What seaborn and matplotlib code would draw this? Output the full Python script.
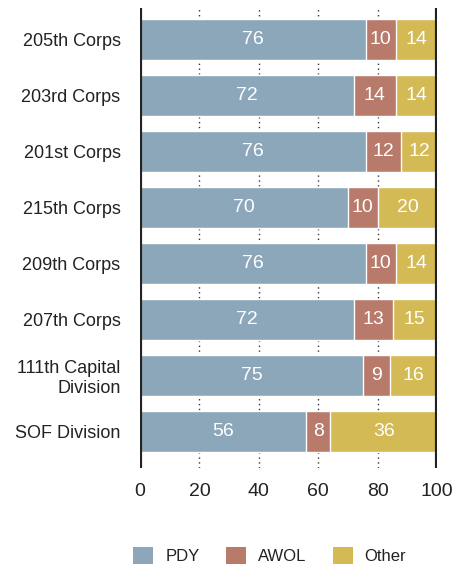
import pandas as pd
import seaborn as sns
import matplotlib.pyplot as plt
from matplotlib.patches import Patch

UNITS = ["205th Corps", "203rd Corps", "201st Corps", "215th Corps",
         "209th Corps", "207th Corps", "111th Capital\nDivision", "SOF Division"]
PDY = [76, 72, 76, 70, 76, 72, 75, 56]
AWOL = [10, 14, 12, 10, 10, 13, 9, 8]
OTHER = [14, 14, 12, 20, 14, 15, 16, 36]
X_TICKS = [0, 20, 40, 60, 80, 100]

COLORS = {"PDY": "#8ba7b9", "AWOL": "#b77a6b", "Other": "#d4ba55"}

sns.set_style("white")
plt.rcParams["font.family"] = ["Liberation Sans", "DejaVu Sans"]

df = pd.DataFrame({"unit": UNITS, "PDY": PDY, "AWOL": AWOL, "Other": OTHER})
df["pdy_awol"] = df["PDY"] + df["AWOL"]
df["total"] = df["pdy_awol"] + df["Other"]

fig = plt.figure(figsize=(4.7, 5.67), dpi=100)
ax = fig.add_axes([0.298, 0.175, 0.632, 0.811])

# dotted gridlines sit behind the bars, so they only show in the gaps
for x in X_TICKS[1:-1]:
    ax.axvline(x, color="#333333", lw=1, ls=(0, (1, 2.5)), zorder=0)

# stacked bars: draw cumulative totals back to front
sns.barplot(data=df, y="unit", x="total", color=COLORS["Other"], orient="h",
            width=0.73, saturation=1, ax=ax, zorder=2)
sns.barplot(data=df, y="unit", x="pdy_awol", color=COLORS["AWOL"], orient="h",
            width=0.73, saturation=1, ax=ax, zorder=3)
sns.barplot(data=df, y="unit", x="PDY", color=COLORS["PDY"], orient="h",
            width=0.73, saturation=1, ax=ax, zorder=4)

for i, row in df.iterrows():
    starts = [0, row["PDY"], row["pdy_awol"]]
    for s, v in zip(starts, [row["PDY"], row["AWOL"], row["Other"]]):
        ax.text(s + v / 2, i, str(v), color="white", ha="center", va="center",
                fontsize=14, zorder=5)

ax.axvline(0, color="#222222", lw=3, zorder=6, solid_capstyle="round")
ax.axvline(100, color="#222222", lw=3, zorder=6, solid_capstyle="round")

ax.set_xlim(0, 100)
ax.set_ylim(7.65, -0.57)
ax.set_xticks(X_TICKS)
ax.set_xticklabels([str(t) for t in X_TICKS])
ax.set_yticks(range(len(UNITS)))
ax.set_yticklabels(UNITS, multialignment="right")
ax.tick_params(axis="both", length=0, labelsize=13, colors="#222222")
ax.tick_params(axis="x", labelsize=14, pad=11)
ax.tick_params(axis="y", pad=14)
ax.set_xlabel("")
ax.set_ylabel("")
sns.despine(ax=ax, left=True, bottom=True)

handles = [Patch(facecolor=c, edgecolor="none", label=k) for k, c in COLORS.items()]
fig.legend(handles=handles, loc="center", bbox_to_anchor=(0.574, 0.021), ncol=3,
           frameon=False, fontsize=12, handlelength=1.2, handleheight=1.2,
           handletextpad=0.7, columnspacing=1.6, labelcolor="#222222")

fig.savefig("out.png", dpi=100)
